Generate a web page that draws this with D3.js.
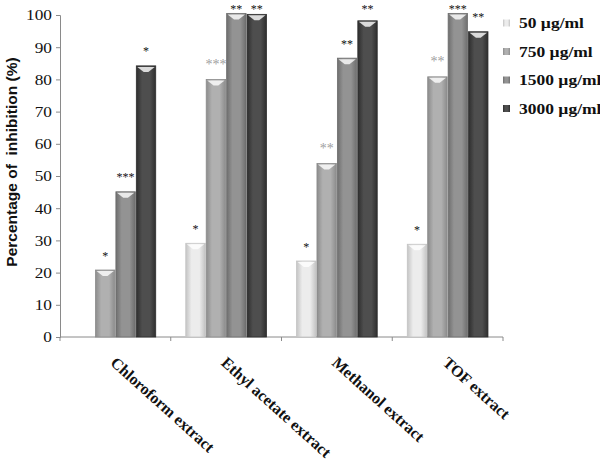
<!DOCTYPE html>
<html>
<head>
<meta charset="utf-8">
<script src="https://cdn.jsdelivr.net/npm/d3@7"></script>
<style>
  body { margin: 0; background: #fff; }
  svg { display: block; }
</style>
</head>
<body>
<div id="chart"></div>
<script>
var w = 600, h = 463;

// data
var categories = ["Chloroform extract", "Ethyl acetate extract", "Methanol extract", "TOF extract"];
var series = ["50 µg/ml", "750 µg/ml", "1500 µg/ml", "3000 µg/ml"];
var values50 = [null, 29.1, 23.6, 28.8];
var values750 = [20.8, 80.0, 53.9, 80.8];
var values1500 = [45.1, 100.5, 86.6, 100.5];
var values3000 = [84.2, 100.2, 98.2, 94.8];
var stars50 = ["", "*", "*", "*"];
var stars750 = ["*", "***", "**", "**"];
var stars1500 = ["***", "**", "**", "***"];
var stars3000 = ["*", "**", "**", "**"];
var starGray750 = [false, true, true, true];
var yTicks = [0, 10, 20, 30, 40, 50, 60, 70, 80, 90, 100];

var allValues = [values50, values750, values1500, values3000];
var allStars = [stars50, stars750, stars1500, stars3000];
var mid = ["#ececec", "#b0b0b0", "#939393", "#4e4e4e"];
var edge = ["#c4c4c4", "#8c8c8c", "#6e6e6e", "#2e2e2e"];
var serif = "'Liberation Serif', 'Times New Roman', serif";

var svg = d3.select("#chart").append("svg")
  .attr("width", w)
  .attr("height", h);

var defs = svg.append("defs");
series.forEach(function (s, i) {
  var g = defs.append("linearGradient").attr("id", "g" + i)
    .attr("x1", "0%").attr("x2", "100%").attr("y1", "0%").attr("y2", "0%");
  g.append("stop").attr("offset", "0%").attr("stop-color", edge[i]);
  g.append("stop").attr("offset", "30%").attr("stop-color", mid[i]);
  g.append("stop").attr("offset", "70%").attr("stop-color", mid[i]);
  g.append("stop").attr("offset", "100%").attr("stop-color", edge[i]);
});

var x0 = d3.scaleBand().domain(categories).range([60, 503]).padding(0);
var x1 = d3.scaleBand().domain(series)
  .range([14, x0.bandwidth() - 14]).padding(0.05);
var y = d3.scaleLinear().domain([0, 100]).range([337, 15]);

// build flat list of bars
var bars = [];
categories.forEach(function (c, ci) {
  series.forEach(function (s, si) {
    var v = allValues[si][ci];
    if (v == null) return;
    bars.push({cat: c, ser: s, si: si, ci: ci, value: v,
      star: allStars[si][ci], gray: si == 1 && starGray750[ci]});
  });
});

// y axis
var yAxis = svg.append("g")
  .attr("transform", "translate(60,0)")
  .call(d3.axisLeft(y).tickValues(yTicks).tickSize(4).tickPadding(5));
yAxis.select(".domain").attr("stroke", "#8a8a8a");
yAxis.selectAll(".tick line").attr("stroke", "#8a8a8a");
yAxis.selectAll(".tick text")
  .attr("font-family", serif)
  .attr("font-size", "15px")
  .attr("fill", "#111")
  .attr("x", -7)
  .attr("transform", "scale(1.15,1)");

// x axis line and band ticks
var xAxis = svg.append("g");
xAxis.append("line")
  .attr("x1", 60).attr("x2", 503)
  .attr("y1", y(0)).attr("y2", y(0))
  .attr("stroke", "#8a8a8a");
var bounds = [x0.range()[0]].concat(categories.map(function (c) { return x0(c) + x0.bandwidth(); }));
xAxis.selectAll("line.tk").data(bounds).enter().append("line")
  .attr("class", "tk")
  .attr("x1", function (d) { return d; }).attr("x2", function (d) { return d; })
  .attr("y1", y(0)).attr("y2", y(0) + 4)
  .attr("stroke", "#8a8a8a");

// bars
var bar = svg.selectAll("g.bar").data(bars).enter().append("g").attr("class", "bar");
bar.append("rect")
  .attr("x", function (d) { return x0(d.cat) + x1(d.ser); })
  .attr("y", function (d) { return y(d.value); })
  .attr("width", x1.bandwidth())
  .attr("height", function (d) { return y(0) - y(d.value); })
  .attr("fill", function (d) { return "url(#g" + d.si + ")"; })
  .attr("stroke", function (d) { return edge[d.si]; })
  .attr("stroke-width", 0.8);
// bevelled top
bar.append("path")
  .attr("d", function (d) {
    var bx = x0(d.cat) + x1(d.ser), by = y(d.value), bw = x1.bandwidth();
    return "M" + (bx + 1) + "," + (by + 1) + "L" + (bx + bw - 1) + "," + (by + 1) +
      "L" + (bx + bw * 0.62) + "," + (by + 6) + "L" + (bx + bw * 0.38) + "," + (by + 6) + "Z";
  })
  .attr("fill", "#fff")
  .attr("opacity", 0.8);

// significance stars (kept inside the top edge like the original)
svg.selectAll("text.star").data(bars).enter().append("text")
  .attr("class", "star")
  .attr("x", function (d) { return x0(d.cat) + x1(d.ser) + x1.bandwidth() / 2; })
  .attr("y", function (d) { return Math.max(y(d.value) - 17, 6) + 6.5; })
  .attr("text-anchor", "middle")
  .attr("font-family", serif)
  .attr("font-size", function (d) { return d.gray ? "14px" : "12px"; })
  .attr("fill", function (d) { return d.gray ? "#a0a0a0" : "#111"; })
  .text(function (d) { return d.star; });

// category labels
svg.selectAll("text.cat").data(categories).enter().append("text")
  .attr("class", "cat")
  .attr("transform", function (d) {
    return "translate(" + (x0(d) + x0.bandwidth() / 2 - 6) + ",364) rotate(42)";
  })
  .attr("font-family", serif)
  .attr("font-weight", "bold")
  .attr("font-size", "16px")
  .attr("fill", "#111")
  .text(function (d) { return d; });

// y title
svg.append("text")
  .attr("transform", "translate(17,162) rotate(-90)")
  .attr("text-anchor", "middle")
  .attr("font-family", "'Liberation Sans', Arial, sans-serif")
  .attr("font-weight", "bold")
  .attr("font-size", "15.5px")
  .attr("fill", "#111")
  .text("Percentage of \u00a0inhibition (%)");

// legend
var legend = svg.selectAll("g.leg").data(series).enter().append("g")
  .attr("class", "leg")
  .attr("transform", function (d, i) { return "translate(503," + (23 + i * 28.5) + ")"; });
legend.append("rect")
  .attr("x", 0).attr("y", -3.5)
  .attr("width", 7).attr("height", 7)
  .attr("fill", function (d, i) { return "url(#g" + i + ")"; });
legend.append("text")
  .attr("transform", "translate(16,5) scale(1.25,1)")
  .attr("font-family", serif)
  .attr("font-weight", "bold")
  .attr("font-size", "14px")
  .attr("fill", "#111")
  .text(function (d) { return d; });
</script>
</body>
</html>
